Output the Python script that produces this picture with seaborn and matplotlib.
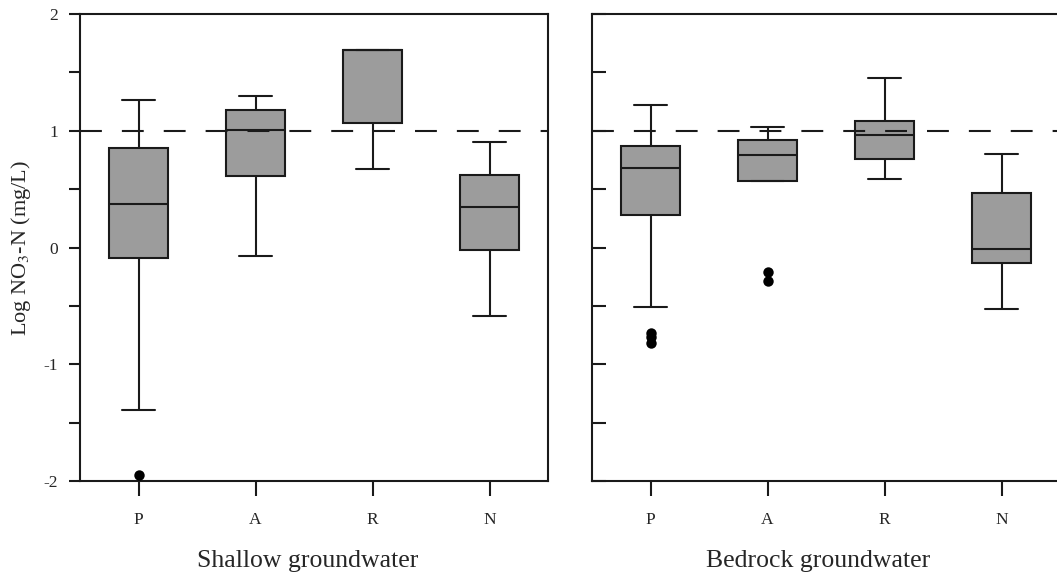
import numpy as np
import pandas as pd
import matplotlib
matplotlib.use("Agg")
import matplotlib.pyplot as plt
import seaborn as sns

sns.set_style("ticks")
plt.rcParams["font.family"] = ["Liberation Serif", "DejaVu Serif"]
plt.rcParams["mathtext.fontset"] = "stix"

groups = ["P", "A", "R", "N"]

# box summaries (log NO3-N): whisker low, Q1, median, Q3, whisker high
shallow_lo  = [-1.39, -0.07, 0.67, -0.59]
shallow_q1  = [-0.09, 0.61, 1.07, -0.02]
shallow_med = [0.37, 1.01, 1.69, 0.35]
shallow_q3  = [0.85, 1.18, 1.69, 0.62]
shallow_hi  = [1.26, 1.30, 1.69, 0.90]
shallow_out_grp = ["P"]
shallow_out_val = [-1.95]

bedrock_lo  = [-0.51, 0.57, 0.59, -0.53]
bedrock_q1  = [0.28, 0.57, 0.76, -0.13]
bedrock_med = [0.68, 0.79, 0.96, -0.01]
bedrock_q3  = [0.87, 0.92, 1.08, 0.47]
bedrock_hi  = [1.22, 1.03, 1.45, 0.80]
bedrock_out_grp = ["P", "P", "P", "A", "A"]
bedrock_out_val = [-0.73, -0.77, -0.82, -0.21, -0.29]

limit = 1.0  # dashed reference line


def summary_frame(lo, q1, med, q3, hi):
    rows = []
    for i, g in enumerate(groups):
        for v in [lo[i], q1[i], med[i], q3[i], hi[i]]:
            rows.append({"group": g, "value": v})
    return pd.DataFrame(rows)


df_sh = summary_frame(shallow_lo, shallow_q1, shallow_med, shallow_q3, shallow_hi)
df_br = summary_frame(bedrock_lo, bedrock_q1, bedrock_med, bedrock_q3, bedrock_hi)
out_sh = pd.DataFrame({"group": shallow_out_grp, "value": shallow_out_val})
out_br = pd.DataFrame({"group": bedrock_out_grp, "value": bedrock_out_val})

fig = plt.figure(figsize=(10.57, 5.76), dpi=100)
ax1 = fig.add_axes([80 / 1057, 95 / 576, 468 / 1057, 467 / 576])
ax2 = fig.add_axes([592 / 1057, 95 / 576, 468 / 1057, 467 / 576])

edge = "#1a1a1a"
for ax, df, out in [(ax1, df_sh, out_sh), (ax2, df_br, out_br)]:
    sns.boxplot(data=df, x="group", y="value", order=groups, ax=ax,
                color="#9c9c9c", saturation=1, linecolor=edge, linewidth=1.5,
                width=0.5, whis=(0, 100), capwidths=0.28, zorder=2)
    sns.stripplot(data=out, x="group", y="value", order=groups, ax=ax,
                  color="black", size=7.5, jitter=False, zorder=3, legend=False)
    # dashed line sits on top of the boxes
    ax.axhline(limit, color=edge, lw=1.5, linestyle=(0, (10.5, 9.6)), zorder=4)
    ax.set_ylim(-2, 2)
    ax.set_xlim(-0.5, 3.5)
    ax.set_xlabel("")
    ax.set_ylabel("")
    for s in ax.spines.values():
        s.set_linewidth(1.5)
        s.set_color(edge)
    yt = np.arange(-2, 2.01, 0.5)
    ax.set_yticks(yt)
    ax.tick_params(axis="x", direction="out", length=11, width=1.5, labelsize=12.5, pad=11, color=edge)

ax1.set_yticklabels([str(int(t)) if t == int(t) else "" for t in yt])
ax1.tick_params(axis="y", direction="out", length=8, width=1.5, labelsize=12.5, pad=8, color=edge)
ax2.tick_params(axis="y", direction="in", length=10, width=1.5, labelleft=False, color=edge)

fig.text(0.02, 0.569, r"Log NO$_3$-N (mg/L)", rotation=90, ha="center", va="center", fontsize=16)
fig.text(308 / 1057, 0.0156, "Shallow groundwater", ha="center", va="baseline", fontsize=18.5)
fig.text(818 / 1057, 0.0156, "Bedrock groundwater", ha="center", va="baseline", fontsize=18.5)

fig.savefig("out.png", dpi=100)
